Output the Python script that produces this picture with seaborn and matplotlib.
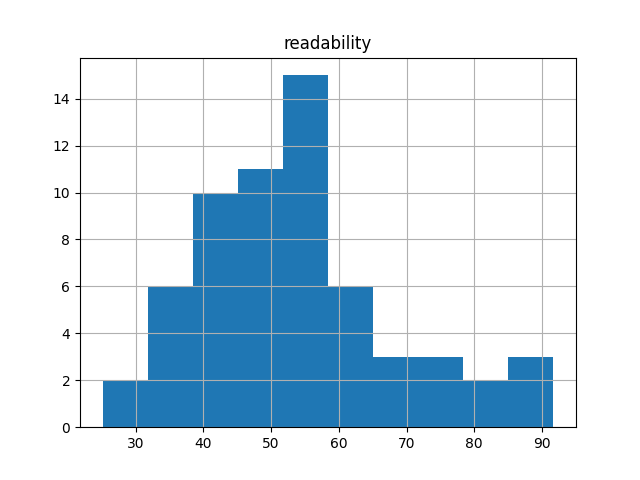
import numpy as np
import matplotlib
matplotlib.use('Agg')
import matplotlib.pyplot as plt
import seaborn as sns

# 直方图数据
bin_edges = [25.1, 31.8, 38.45, 45.1, 51.75, 58.4, 65.05, 71.7, 78.35, 85.0, 91.7]
counts = [2, 6, 10, 11, 15, 6, 3, 3, 2, 3]
bin_centers = [(a + b) / 2 for a, b in zip(bin_edges[:-1], bin_edges[1:])]

fig, ax = plt.subplots(figsize=(6.4, 4.8), dpi=100)
sns.histplot(x=bin_centers, weights=counts, bins=bin_edges, ax=ax,
             color='#1f77b4', alpha=1.0, edgecolor='none', linewidth=0)
ax.grid(True)
ax.set_xlabel('')
ax.set_ylabel('')
ax.set_title('readability')
ax.set_xticks([30, 40, 50, 60, 70, 80, 90])
ax.set_yticks(np.arange(0, 15, 2))

plt.savefig('out.png')
plt.close()
